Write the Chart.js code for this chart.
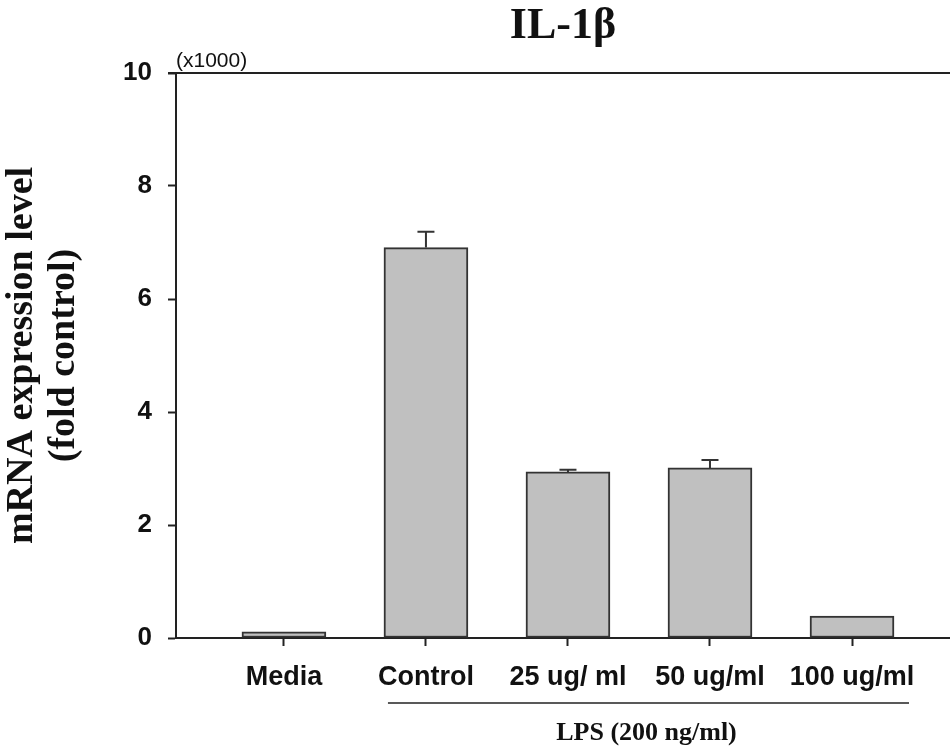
<!DOCTYPE html>
<html>
<head>
<meta charset="utf-8">
<script src="https://cdn.jsdelivr.net/npm/chart.js@4.4.1/dist/chart.umd.min.js"></script>
<style>
  html, body { margin: 0; padding: 0; background: #ffffff; }
  #wrap { width: 950px; height: 747px; position: relative; }
</style>
</head>
<body>
<div id="wrap"><canvas id="c" width="950" height="747"></canvas></div>
<script>
// ---- data (values in thousands) ----
const categories = ['Media', 'Control', '25 ug/ ml', '50 ug/ml', '100 ug/ml'];
const positions = [1, 2, 3, 4, 5];
const meanValues = [0.11, 6.91, 2.94, 3.01, 0.39];
const errorValues = [0, 0.28, 0.04, 0.14, 0];
const yTicks = [0, 2, 4, 6, 8, 10];
const chartTitle = 'IL-1\u03B2';
const yTitleLines = ['mRNA expression level', '(fold control)'];
const multiplierLabel = '(x1000)';
const groupLabel = 'LPS (200 ng/ml)';
const groupFrom = 2, groupTo = 5;

const SANS = '"Liberation Sans", Arial, sans-serif';
const SERIF = '"Liberation Serif", "Times New Roman", serif';
const AXIS = '#222222';

const errorBarPlugin = {
  id: 'errorBars',
  afterDatasetsDraw(chart) {
    const ctx = chart.ctx;
    const meta = chart.getDatasetMeta(0);
    const ys = chart.scales.y;
    ctx.save();
    ctx.strokeStyle = '#333333';
    ctx.lineWidth = 2;
    meta.data.forEach((bar, i) => {
      const e = errorValues[i];
      if (!e) return;
      const yb = ys.getPixelForValue(meanValues[i]);
      const yt = ys.getPixelForValue(meanValues[i] + e);
      ctx.beginPath();
      ctx.moveTo(bar.x, yb);
      ctx.lineTo(bar.x, yt);
      ctx.moveTo(bar.x - 8.5, yt);
      ctx.lineTo(bar.x + 8.5, yt);
      ctx.stroke();
    });
    ctx.restore();
  }
};

const extrasPlugin = {
  id: 'extras',
  afterDraw(chart) {
    const ctx = chart.ctx;
    const ca = chart.chartArea;
    const xs = chart.scales.x;
    const ys = chart.scales.y;
    ctx.save();
    // top frame line
    const yTop = ys.getPixelForValue(10);
    ctx.strokeStyle = AXIS;
    ctx.lineWidth = 2;
    ctx.beginPath();
    ctx.moveTo(ca.left - 8, yTop);
    ctx.lineTo(ca.right, yTop);
    ctx.stroke();
    // multiplier label
    ctx.fillStyle = '#111';
    ctx.font = '21px ' + SANS;
    ctx.textAlign = 'left';
    ctx.textBaseline = 'alphabetic';
    ctx.fillText(multiplierLabel, ca.left, yTop - 6);
    // group bracket line
    const x1 = xs.getPixelForValue(groupFrom) - 38;
    const x2 = xs.getPixelForValue(groupTo) + 57;
    const yl = ca.bottom + 65;
    ctx.lineWidth = 1.5;
    ctx.beginPath();
    ctx.moveTo(x1, yl);
    ctx.lineTo(x2, yl);
    ctx.stroke();
    ctx.font = 'bold 26px ' + SERIF;
    ctx.textAlign = 'center';
    ctx.fillText(groupLabel, (x1 + x2) / 2 - 2, yl + 37);
    ctx.restore();
  }
};

new Chart(document.getElementById('c'), {
  type: 'bar',
  data: {
    datasets: [{
      data: positions.map((p, i) => ({ x: p, y: meanValues[i] })),
      backgroundColor: '#c0c0c0',
      borderColor: '#333333',
      borderWidth: 2,
      borderSkipped: false,
      barThickness: 84
    }]
  },
  options: {
    responsive: false,
    animation: false,
    devicePixelRatio: 1,
    layout: { padding: 0 },
    plugins: {
      legend: { display: false },
      tooltip: { enabled: false },
      title: {
        display: true,
        text: chartTitle,
        fullSize: false,
        color: '#111',
        font: { family: SERIF, size: 44, weight: 'bold', lineHeight: 1.2 },
        padding: { top: 0, bottom: 20.2 }
      }
    },
    scales: {
      x: {
        type: 'linear',
        offset: false,
        min: 0.24,
        max: 5.69,
        afterFit(scale) { scale.height = 109; },
        afterBuildTicks(scale) { scale.ticks = positions.map(v => ({ value: v })); },
        grid: { display: true, offset: false, drawOnChartArea: false, tickLength: 8, tickColor: AXIS, tickWidth: 2 },
        border: { display: true, color: AXIS, width: 2 },
        ticks: {
          autoSkip: false,
          maxRotation: 0,
          padding: 15,
          color: '#111',
          font: { family: SANS, size: 27, weight: 'bold' },
          callback: (v) => categories[positions.indexOf(v)] || ''
        }
      },
      y: {
        min: 0,
        max: 10,
        afterFit(scale) { scale.width = 176; },
        afterBuildTicks(scale) { scale.ticks = yTicks.map(v => ({ value: v })); },
        grid: { display: true, drawOnChartArea: false, tickLength: 8, tickColor: AXIS, tickWidth: 2 },
        border: { display: true, color: AXIS, width: 2 },
        ticks: {
          padding: 16,
          color: '#111',
          font: { family: SANS, size: 26, weight: 'bold' }
        },
        title: {
          display: true,
          text: yTitleLines,
          color: '#111',
          font: { family: SERIF, size: 38, weight: 'bold', lineHeight: 1.1 },
          padding: { top: 1, bottom: 0 }
        }
      }
    }
  },
  plugins: [errorBarPlugin, extrasPlugin]
});
</script>
</body>
</html>
